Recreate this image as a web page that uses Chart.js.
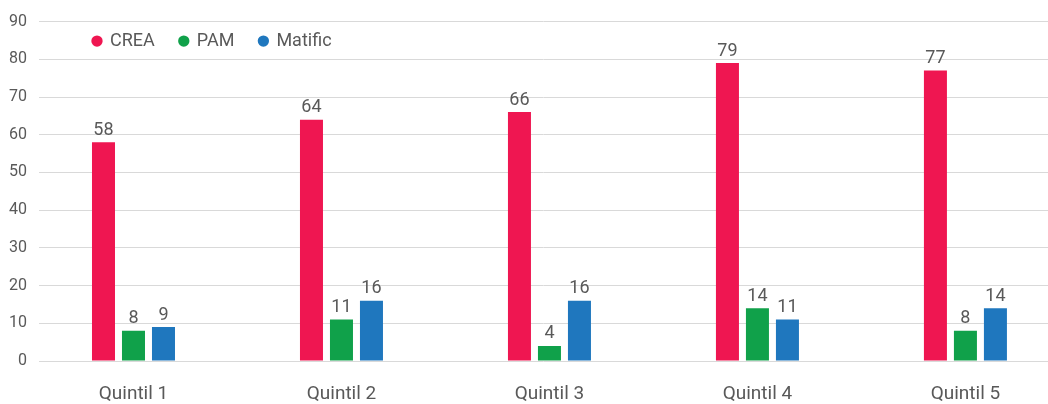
<!DOCTYPE html>
<html>
<head>
<meta charset="utf-8">
<script src="https://cdn.jsdelivr.net/npm/chart.js@4.4.1/dist/chart.umd.min.js"></script>
<style>
  html, body { margin: 0; padding: 0; background: #ffffff; overflow: hidden; }
  #wrap { width: 1048px; height: 404px; position: relative; }
</style>
</head>
<body>
<div id="wrap"><canvas id="c"></canvas></div>
<script>
const categories = ['Quintil 1', 'Quintil 2', 'Quintil 3', 'Quintil 4', 'Quintil 5'];
const seriesNames = ['CREA', 'PAM', 'Matific'];
const creaValues = [58, 64, 66, 79, 77];
const pamValues = [8, 11, 4, 14, 8];
const matificValues = [9, 16, 16, 11, 14];
const yTicks = [0, 10, 20, 30, 40, 50, 60, 70, 80, 90];

const colors = ['#EF1651', '#10A14A', '#1F77BE'];
const textColor = '#595959';
const positions = categories.map((c, i) => i);

function toPoints(values) {
  return values.map((v, i) => ({ x: positions[i], y: v }));
}

const valueLabels = {
  id: 'valueLabels',
  afterDatasetsDraw(chart) {
    const ctx = chart.ctx;
    ctx.save();
    ctx.font = '18px Roboto';
    ctx.fillStyle = textColor;
    ctx.textAlign = 'center';
    ctx.textBaseline = 'alphabetic';
    chart.data.datasets.forEach((ds, di) => {
      const meta = chart.getDatasetMeta(di);
      meta.data.forEach((bar, i) => {
        ctx.fillText(String(ds.data[i].y), bar.x, bar.y - 7.5);
      });
    });
    ctx.restore();
  }
};

// Legend overlays the plot: it takes no layout space, then is moved inside the chart area.
const legendPlace = {
  id: 'legendPlace',
  beforeLayout(chart) {
    const lg = chart.legend;
    if (lg && !lg.__patched) {
      const origFit = lg.fit;
      lg.fit = function () { origFit.call(this); this.__realHeight = this.height; this.height = 0; };
      lg.__patched = true;
    }
  },
  afterLayout(chart) {
    const lg = chart.legend;
    if (lg) {
      const pad = lg.options.labels.padding;
      const h = lg.__realHeight || 0;
      const newLeft = chart.chartArea.left + 54 - pad;
      const dx = newLeft - lg.left;
      lg.left += dx; lg.right += dx;
      lg.top = chart.chartArea.top + 10.5 - pad;
      lg.height = h;
      lg.bottom = lg.top + h;
    }
  }
};

new Chart(document.getElementById('c'), {
  type: 'bar',
  data: {
    datasets: [
      { label: seriesNames[0], data: toPoints(creaValues), backgroundColor: colors[0] },
      { label: seriesNames[1], data: toPoints(pamValues), backgroundColor: colors[1] },
      { label: seriesNames[2], data: toPoints(matificValues), backgroundColor: colors[2] }
    ]
  },
  options: {
    responsive: true,
    maintainAspectRatio: false,
    animation: false,
    categoryPercentage: 0.4327,
    barPercentage: 0.767,
    layout: { padding: { left: 9, top: 20.4, right: 0, bottom: 0 } },
    plugins: {
      tooltip: { enabled: false },
      legend: {
        position: 'top',
        align: 'start',
        labels: {
          usePointStyle: true,
          pointStyle: 'circle',
          boxWidth: 8,
          boxHeight: 8,
          padding: 25,
          color: textColor,
          font: { family: 'Roboto', size: 18 }
        }
      }
    },
    scales: {
      x: {
        type: 'linear',
        min: -0.4543,
        max: 4.397,
        offset: false,
        grid: { display: false, offset: false, drawTicks: false },
        border: { display: false },
        afterBuildTicks(scale) {
          scale.ticks = positions.map(v => ({ value: v }));
        },
        afterFit(scale) { scale.height = 43; },
        ticks: {
          autoSkip: false,
          maxRotation: 0,
          padding: 22,
          color: textColor,
          font: { family: 'Roboto', size: 19 },
          callback: (v, i) => categories[i]
        }
      },
      y: {
        min: 0,
        max: 90,
        afterBuildTicks(scale) {
          scale.ticks = yTicks.map(v => ({ value: v }));
        },
        afterFit(scale) { scale.width = 30; },
        grid: { color: '#d9d9d9', lineWidth: 1, drawTicks: false },
        border: { display: false },
        ticks: {
          padding: 12,
          color: textColor,
          font: { family: 'Roboto', size: 16 }
        }
      }
    }
  },
  plugins: [valueLabels, legendPlace]
});
</script>
</body>
</html>
